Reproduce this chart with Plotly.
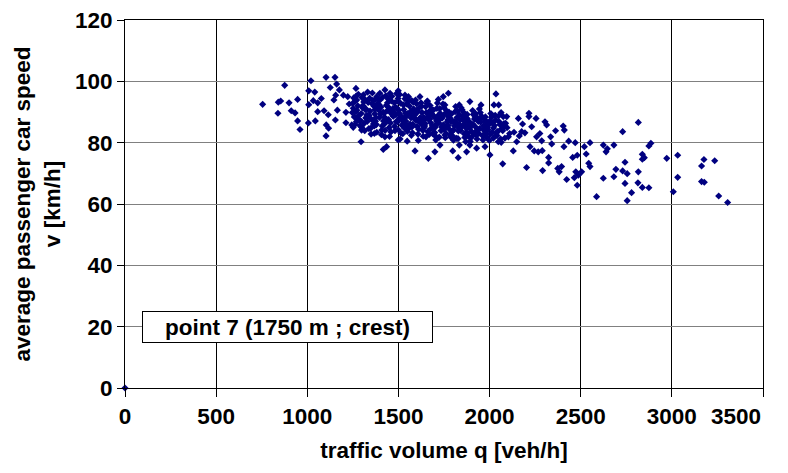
import plotly.graph_objects as go

# sparse points (outside the dense core)
q_edge = [0,
          755, 839, 841, 854, 876, 900, 912, 933, 947, 947, 960, 1006, 1008, 1008, 1020,
          1033, 1041, 1044, 1057, 1057, 1077, 1092, 1103, 1104, 1115, 1117, 1103, 1126,
          1146, 1152, 1154, 1161, 1165, 1156, 1176, 1198, 1212, 1212, 1222, 1230, 1244,
          1252, 1267, 1271, 1295, 1298, 1316,
          1426, 1499, 1381, 1371, 1454, 1536, 1573, 1618, 1658, 1746, 1774, 1755, 1834,
          1892, 1953, 1368, 1426, 1417, 1435, 1499, 1591, 1664, 1700, 1728, 1798, 1828,
          1834, 1874, 1892, 1929, 1975, 2002, 2048,
          2035, 2024, 2050, 2063, 2075, 2094, 2072, 2130, 2134, 2158, 2149, 2163, 2181,
          2176, 2194, 2203, 2216, 2216, 2222, 2231, 2255, 2258, 2245, 2267, 2276, 2286,
          2289, 2291, 2304, 2313, 2324, 2324, 2335, 2341, 2362, 2374, 2382, 2395, 2404,
          2410, 2408, 2423, 2434, 2456, 2465, 2470, 2473, 2481, 2481, 2487, 2505, 2520,
          2530, 2544, 2551, 2551, 2587, 2624, 2624, 2639, 2646, 2682, 2682, 2693,
          2816, 2730, 2874, 2885, 2838, 2849, 2838, 2743, 2730, 2755, 2816, 2743, 2814,
          2838, 2874, 2779, 2755, 2972, 3032, 3032, 3008, 3176, 3163, 3235, 3163, 3178,
          3257, 3306]
v_edge = [0,
          92.5, 89.6, 93.2, 93.6, 98.7, 93.0, 90.4, 89.7, 94.1, 87.1, 84.3, 86.4, 92.4, 96.9, 100.2,
          93.7, 96.5, 87.1, 93.0, 90.1, 94.4, 90.4, 101.3, 85.8, 89.1, 84.7, 82.2, 98.0,
          93.9, 101.3, 87.4, 99.1, 90.6, 95.5, 97.2, 95.5, 89.9, 86.5, 95.0, 92.6, 85.8,
          85.0, 97.7, 93.9, 80.3, 84.1, 94.1,
          97.2, 96.9, 95.0, 93.9, 96.1, 95.5, 93.7, 95.0, 93.4, 95.0, 96.1, 92.3, 92.3,
          93.4, 92.3, 83.0, 81.9, 77.8, 78.7, 80.9, 77.3, 74.9, 77.0, 79.2, 77.3, 75.1,
          79.2, 77.0, 79.2, 78.2, 78.7, 76.0, 80.3,
          95.9, 92.3, 92.3, 89.8, 88.5, 88.5, 73.1, 77.3, 83.4, 87.9, 80.3, 82.2, 86.1,
          83.6, 83.2, 71.9, 89.6, 88.5, 78.7, 85.2, 87.9, 81.9, 77.3, 77.0, 83.0, 80.6,
          77.4, 70.9, 86.8, 85.8, 75.2, 73.4, 81.9, 79.6, 83.9, 71.6, 70.5, 72.2, 85.4,
          84.1, 78.7, 68.0, 80.5, 75.2, 68.6, 80.0, 70.5, 75.9, 66.1, 69.4, 70.5, 78.7,
          76.3, 73.3, 80.0, 72.2, 62.4, 79.2, 68.4, 77.0, 78.0, 79.2, 68.9, 71.3,
          86.6, 83.6, 78.9, 79.8, 76.2, 75.1, 74.6, 73.6, 70.8, 69.9, 70.5, 66.7, 66.9,
          65.4, 65.3, 63.7, 61.1, 74.9, 75.9, 68.7, 64.0, 74.5, 72.4, 74.1, 67.3, 67.1,
          62.6, 60.5]

# dense core between ~1250 and ~2100 veh/h
q_core = [1252, 1258, 1263, 1270, 1247, 1255, 1266, 1274, 1249, 1261, 1268,
          1296, 1305, 1312, 1300, 1318, 1292, 1308, 1315, 1303, 1321, 1298, 1310,
          1344, 1352, 1360, 1348, 1366, 1339, 1357, 1363, 1350, 1370, 1342, 1355, 1368,
          1396, 1404, 1411, 1399, 1418, 1391, 1407, 1414, 1402, 1421, 1394, 1409, 1416, 1398,
          1446, 1453, 1461, 1449, 1467, 1441, 1457, 1464, 1451, 1471, 1444, 1459, 1469, 1455,
          1496, 1503, 1511, 1499, 1517, 1491, 1507, 1514, 1502, 1521, 1494, 1509, 1519, 1505, 1498,
          1546, 1553, 1561, 1549, 1567, 1541, 1557, 1564, 1551, 1571, 1544, 1559, 1569, 1555, 1548,
          1596, 1603, 1611, 1599, 1617, 1591, 1607, 1614, 1602, 1621, 1594, 1609, 1619, 1605,
          1646, 1653, 1661, 1649, 1667, 1641, 1657, 1664, 1651, 1671, 1644, 1659, 1669, 1655,
          1696, 1703, 1711, 1699, 1717, 1691, 1707, 1714, 1702, 1721, 1694, 1709, 1719, 1705,
          1746, 1753, 1761, 1749, 1767, 1741, 1757, 1764, 1751, 1771, 1744, 1759, 1769, 1755,
          1796, 1803, 1811, 1799, 1817, 1791, 1807, 1814, 1802, 1821, 1794, 1809, 1819,
          1846, 1853, 1861, 1849, 1867, 1841, 1857, 1864, 1851, 1871, 1844, 1859, 1869,
          1896, 1903, 1911, 1899, 1917, 1891, 1907, 1914, 1902, 1921, 1894, 1909,
          1946, 1953, 1961, 1949, 1967, 1941, 1957, 1964, 1951, 1971, 1944,
          1996, 2003, 2011, 1999, 2017, 1991, 2007, 2014, 2002, 2021,
          2046, 2053, 2061, 2049, 2067, 2041, 2057, 2064,
          2096, 2103, 2088, 2110,
          1277, 1283, 1288, 1280, 1272, 1286,
          1322, 1329, 1334, 1327, 1338, 1331, 1324,
          1372, 1379, 1384, 1377, 1388, 1381, 1374, 1386,
          1422, 1429, 1434, 1427, 1438, 1431, 1424, 1436, 1440,
          1472, 1479, 1484, 1477, 1488, 1481, 1474, 1486, 1490,
          1522, 1529, 1534, 1527, 1538, 1531, 1524, 1536, 1540,
          1572, 1579, 1584, 1577, 1588, 1581, 1574, 1586, 1590,
          1622, 1629, 1634, 1627, 1638, 1631, 1624, 1636, 1640,
          1672, 1679, 1684, 1677, 1688, 1681, 1674, 1686, 1690,
          1722, 1729, 1734, 1727, 1738, 1731, 1724, 1736, 1740,
          1772, 1779, 1784, 1777, 1788, 1781, 1774, 1786, 1790,
          1822, 1829, 1834, 1827, 1838, 1831, 1824, 1836,
          1872, 1879, 1884, 1877, 1888, 1881, 1874, 1886,
          1922, 1929, 1934, 1927, 1938, 1931, 1924, 1936,
          1972, 1979, 1984, 1977, 1988, 1981, 1974,
          2022, 2029, 2034, 2027, 2038, 2031,
          2072, 2079, 2084, 2077]
v_core = [91.2, 88.4, 93.5, 86.9, 89.8, 94.6, 90.1, 87.7, 92.8, 85.9, 95.2,
          89.5, 92.1, 86.3, 94.7, 90.8, 87.2, 95.6, 83.9, 91.4, 88.1, 85.0, 93.3,
          90.3, 87.6, 93.8, 84.7, 91.9, 88.9, 96.2, 86.1, 82.8, 89.4, 94.5, 92.7, 85.5,
          88.2, 91.6, 85.4, 93.9, 87.1, 90.7, 82.6, 94.8, 89.3, 86.0, 92.4, 84.1, 90.0, 96.1,
          87.5, 90.9, 93.6, 84.9, 89.2, 91.8, 86.4, 95.1, 82.0, 88.7, 94.2, 83.5, 91.1, 89.9,
          86.8, 89.7, 92.9, 84.2, 88.5, 91.3, 95.7, 83.1, 90.6, 87.4, 93.5, 81.2, 85.7, 88.0, 94.4,
          88.9, 85.6, 91.9, 83.7, 90.2, 87.0, 93.8, 86.1, 89.5, 82.4, 92.6, 84.8, 88.1, 95.0, 80.5,
          87.3, 90.5, 84.4, 92.7, 86.6, 89.1, 82.8, 91.4, 85.3, 88.2, 93.9, 80.7, 87.9, 90.0,
          86.2, 89.8, 83.6, 91.7, 87.5, 84.9, 92.8, 88.6, 81.9, 90.3, 85.4, 93.6, 82.7, 88.0,
          88.4, 85.1, 91.2, 83.3, 87.9, 90.6, 86.0, 92.9, 82.2, 89.0, 84.6, 87.1, 94.1, 80.9,
          85.8, 89.3, 83.0, 91.5, 86.7, 88.1, 81.6, 90.4, 84.3, 87.4, 92.6, 85.0, 88.9, 82.5,
          87.0, 84.2, 90.1, 82.1, 86.3, 89.4, 85.5, 91.8, 80.8, 88.2, 83.6, 86.9, 81.4,
          85.2, 88.6, 82.9, 90.7, 86.8, 84.0, 89.9, 81.7, 87.6, 83.3, 91.4, 85.9, 80.3,
          86.4, 83.5, 89.2, 81.6, 87.7, 84.8, 90.5, 82.7, 85.7, 88.4, 80.4, 86.0,
          84.6, 87.9, 82.3, 89.8, 85.5, 83.0, 88.6, 80.9, 86.7, 84.1, 91.0,
          85.9, 82.8, 88.3, 80.7, 86.5, 84.2, 89.5, 83.4, 87.1, 81.5,
          83.7, 86.8, 81.2, 88.7, 84.5, 82.3, 85.9, 80.1,
          84.9, 81.9, 86.3, 83.0,
          92.0, 88.9, 85.6, 95.8, 90.6, 87.3,
          91.0, 86.9, 93.1, 89.0, 84.6, 96.5, 88.0,
          90.8, 85.9, 92.5, 88.2, 94.1, 83.4, 87.0, 91.7,
          89.6, 86.5, 92.2, 84.0, 90.4, 95.3, 88.3, 87.5, 93.0,
          88.6, 85.3, 91.5, 93.0, 86.9, 83.9, 90.0, 89.1, 96.0,
          87.9, 90.8, 84.7, 92.3, 89.6, 86.2, 82.9, 94.3, 88.4,
          89.2, 86.0, 91.0, 83.2, 87.8, 93.2, 85.1, 90.1, 88.0,
          86.9, 89.9, 84.0, 91.9, 88.3, 85.8, 93.0, 82.1, 87.6,
          87.7, 84.6, 90.7, 86.5, 82.9, 89.5, 92.1, 85.5, 88.9,
          86.4, 89.6, 83.9, 91.1, 85.2, 87.8, 81.8, 88.6, 84.9,
          85.5, 88.3, 82.7, 90.0, 86.8, 84.3, 89.1, 81.9, 87.5,
          86.1, 83.8, 89.0, 81.3, 87.3, 84.8, 90.3, 85.8,
          84.7, 87.7, 82.0, 89.2, 85.6, 83.1, 88.0, 86.6,
          85.2, 82.5, 88.0, 83.8, 86.9, 81.2, 89.4, 84.3,
          83.9, 86.8, 81.8, 88.4, 85.0, 82.9, 87.5,
          84.8, 82.1, 87.4, 85.6, 83.3, 88.9,
          83.9, 86.2, 81.5, 85.0]

q_ticks = [0, 500, 1000, 1500, 2000, 2500, 3000, 3500]
q_ticktext = ["0", "500", "1000", "1500", "2000", "2500", "3000", ""]  # last one drawn right-aligned below
v_ticks = [0, 20, 40, 60, 80, 100, 120]

FONT = dict(family="Liberation Sans, Arial", size=22.5, color="black", weight="bold")

fig = go.Figure()
fig.add_trace(go.Scatter(x=q_edge + q_core, y=v_edge + v_core, mode="markers",
                         marker=dict(symbol="diamond", size=5.5, color="#000080", line_width=0),
                         cliponaxis=False, showlegend=False))

fig.add_annotation(x=889, y=20, text="point 7 (1750 m ; crest)", showarrow=False,
                   font=FONT, bgcolor="white", bordercolor="black", borderwidth=1,
                   borderpad=1, width=287, height=28)
# Excel pushes the last x label inside the chart edge
fig.add_annotation(x=q_ticks[-1], y=0, yref="y", text="3500", showarrow=False,
                   font=FONT, xanchor="right", yanchor="top", yshift=-14)

fig.update_xaxes(range=[0, 3500], tickvals=q_ticks, ticktext=q_ticktext, ticks="outside", ticklen=8,
                 tickcolor="black", showline=True, linecolor="black", linewidth=1, mirror=True,
                 showgrid=True, gridcolor="black", gridwidth=1, zeroline=False,
                 automargin=False, tickfont=FONT, ticklabeloverflow="allow",
                 title=dict(text="traffic volume q [veh/h]", font=FONT, standoff=14))
fig.update_yaxes(range=[0, 120], tickvals=v_ticks, ticks="outside", ticklen=7,
                 tickcolor="black", showline=True, linecolor="black", linewidth=1, mirror=True,
                 showgrid=True, gridcolor="#808080", gridwidth=1, zeroline=False,
                 automargin=False, tickfont=FONT, ticklabeloverflow="allow",
                 title=dict(text="average passenger car speed<br>v [km/h]", font=FONT, standoff=8))

# the page adds an 8px body margin, so the margins are 8px smaller on the left/top
fig.update_layout(width=788, height=473, margin=dict(l=117, r=33, t=12, b=93),
                  plot_bgcolor="white", paper_bgcolor="white")
fig.write_html("out.html")
